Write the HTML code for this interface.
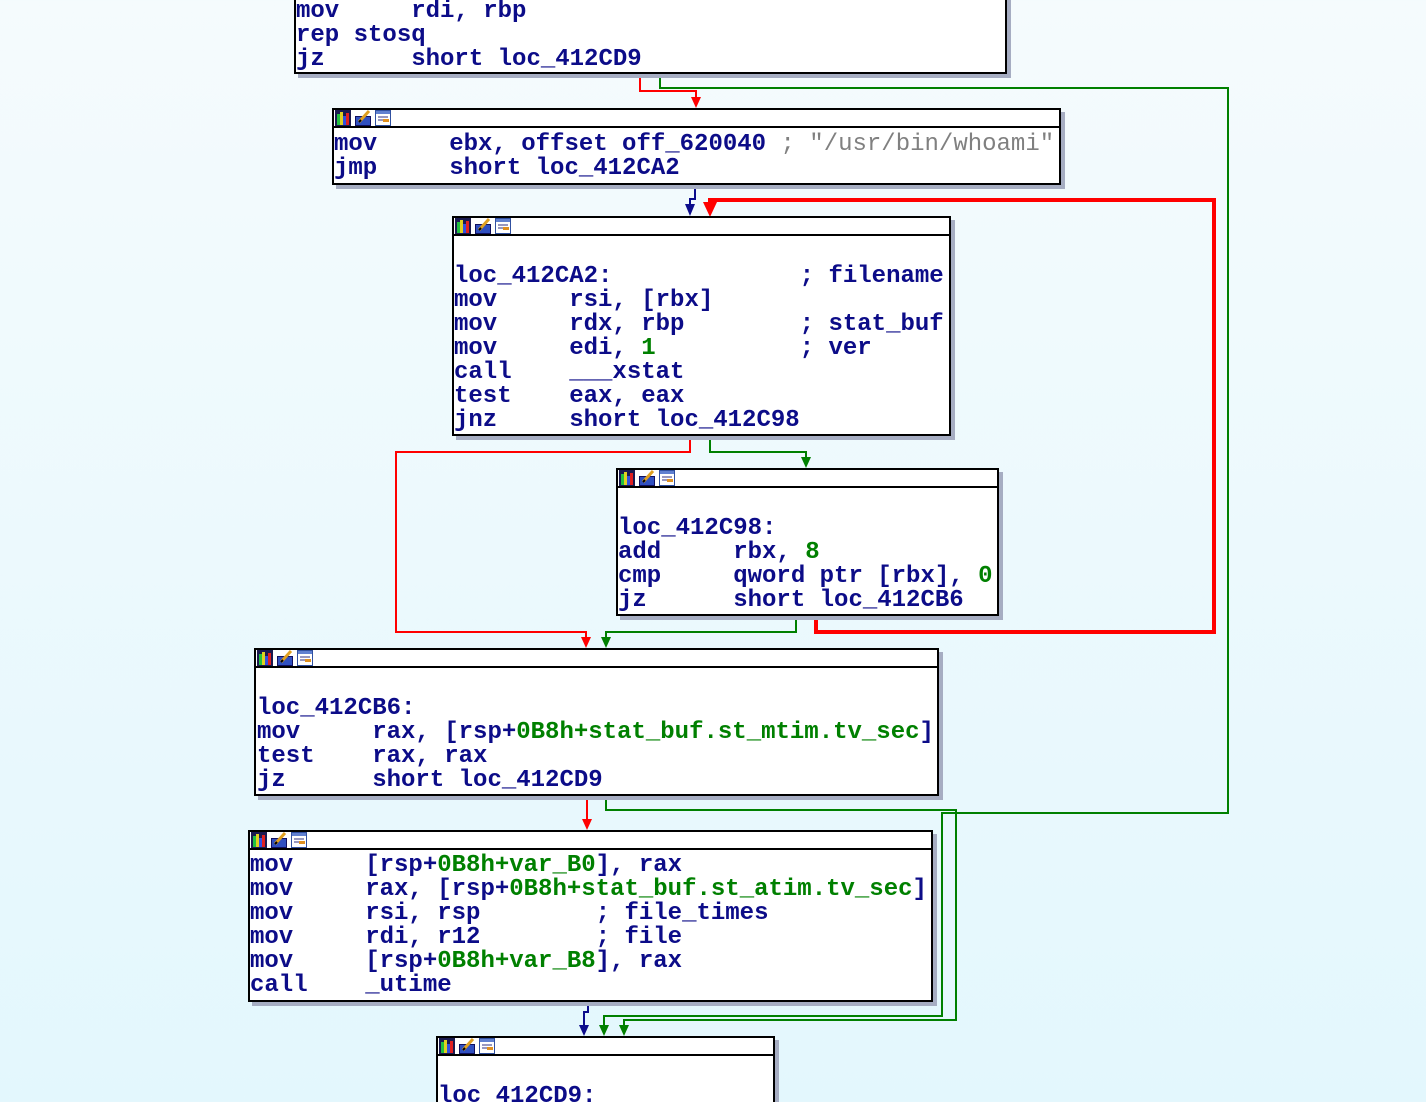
<!DOCTYPE html>
<html><head><meta charset="utf-8"><style>
html,body{margin:0;padding:0;width:1426px;height:1102px;overflow:hidden;}
body{position:relative;background:linear-gradient(#f5fbfd,#e3f7fd);}
.box{position:absolute;box-sizing:border-box;border:2px solid #000;background:#fff;box-shadow:4px 4px 0 #a6adc2;overflow:hidden;}
.hdr{height:16px;border-bottom:2px solid #000;position:relative;}
.hdr svg{position:absolute;top:0;}
pre{margin:0;padding:5px 0 0 0;font-family:"Liberation Mono",monospace;font-weight:bold;font-size:24px;line-height:24px;color:#0c0c88;white-space:pre;}
.g{color:#008000;}
.c{color:#808080;font-weight:normal;}
svg.lines{position:absolute;left:0;top:0;}
</style></head><body>
<svg class="lines" width="1426" height="1102" viewBox="0 0 1426 1102">
<g fill="none" stroke-width="2">
<polyline points="640,74 640,91 696,91 696,100" stroke="#ff0000"/>
<polyline points="660,74 660,88 1228,88 1228,813 942,813 942,1016 604,1016 604,1026" stroke="#008000"/>
<polyline points="695,185 695,199 690,199 690,206" stroke="#0c0c8c"/>
<polyline points="710,436 710,452 806,452 806,458" stroke="#008000"/>
<polyline points="690,436 690,452 396,452 396,632 586,632 586,638" stroke="#ff0000"/>
<polyline points="796,616 796,632 606,632 606,638" stroke="#008000"/>
<polyline points="587,796 587,820" stroke="#ff0000"/>
<polyline points="606,796 606,810 956,810 956,1020 624,1020 624,1026" stroke="#008000"/>
<polyline points="588,1002 588,1012 584,1012 584,1026" stroke="#0c0c8c"/>
<polyline points="816,616 816,632 1214,632 1214,200 710,200 710,204" stroke="#ff0000" stroke-width="4"/>
</g>
<polygon points="691,97 701,97 696,108" fill="#ff0000"/>
<polygon points="685,204 695,204 690,216" fill="#0c0c8c"/>
<polygon points="703,202 717,202 710,217" fill="#ff0000"/>
<polygon points="801,457 811,457 806,468" fill="#008000"/>
<polygon points="581,637 591,637 586,648" fill="#ff0000"/>
<polygon points="601,637 611,637 606,648" fill="#008000"/>
<polygon points="582,819 592,819 587,830" fill="#ff0000"/>
<polygon points="579,1025 589,1025 584,1036" fill="#0c0c8c"/>
<polygon points="599,1025 609,1025 604,1036" fill="#008000"/>
<polygon points="619,1025 629,1025 624,1036" fill="#008000"/>
</svg>

<!-- Box 0 -->
<div class="box" style="left:294px;top:-10px;width:713px;height:84px;">
<pre style="padding-top:8px;">mov     rdi, rbp
rep stosq
jz      short loc_412CD9</pre>
</div>

<!-- Box 1 -->
<div class="box" style="left:332px;top:108px;width:729px;height:77px;">
<div class="hdr">
<svg style="left:1px" width="16" height="16"><rect x="0" y="0" width="16" height="16" fill="#1a1a50"/><rect x="2" y="4" width="3" height="11" fill="#20c040"/><rect x="5" y="2" width="3" height="13" fill="#e0d020"/><rect x="8" y="6" width="3" height="9" fill="#3050e0"/><rect x="11" y="3" width="3" height="12" fill="#e02020"/></svg>
<svg style="left:21px" width="16" height="16"><rect x="0.5" y="6.5" width="15" height="9" fill="#3050c0" stroke="#101060"/><line x1="4" y1="12" x2="14" y2="1" stroke="#e0a020" stroke-width="3"/><line x1="4" y1="12" x2="6" y2="10" stroke="#000" stroke-width="2"/></svg>
<svg style="left:41px" width="16" height="16"><rect x="0.5" y="0.5" width="15" height="15" fill="#fff" stroke="#3050a0"/><rect x="1" y="1" width="14" height="3" fill="#6080d0"/><line x1="3" y1="7" x2="13" y2="7" stroke="#303080"/><line x1="3" y1="10" x2="8" y2="10" stroke="#303080"/><rect x="8" y="9" width="6" height="3" fill="#e09020"/></svg>
</div>
<pre>mov     ebx, offset off_620040 <span class="c">; "/usr/bin/whoami"</span>
jmp     short loc_412CA2</pre>
</div>

<!-- Box 2 -->
<div class="box" style="left:452px;top:216px;width:499px;height:220px;">
<div class="hdr">
<svg style="left:1px" width="16" height="16"><rect x="0" y="0" width="16" height="16" fill="#1a1a50"/><rect x="2" y="4" width="3" height="11" fill="#20c040"/><rect x="5" y="2" width="3" height="13" fill="#e0d020"/><rect x="8" y="6" width="3" height="9" fill="#3050e0"/><rect x="11" y="3" width="3" height="12" fill="#e02020"/></svg>
<svg style="left:21px" width="16" height="16"><rect x="0.5" y="6.5" width="15" height="9" fill="#3050c0" stroke="#101060"/><line x1="4" y1="12" x2="14" y2="1" stroke="#e0a020" stroke-width="3"/><line x1="4" y1="12" x2="6" y2="10" stroke="#000" stroke-width="2"/></svg>
<svg style="left:41px" width="16" height="16"><rect x="0.5" y="0.5" width="15" height="15" fill="#fff" stroke="#3050a0"/><rect x="1" y="1" width="14" height="3" fill="#6080d0"/><line x1="3" y1="7" x2="13" y2="7" stroke="#303080"/><line x1="3" y1="10" x2="8" y2="10" stroke="#303080"/><rect x="8" y="9" width="6" height="3" fill="#e09020"/></svg>
</div>
<pre> 
loc_412CA2:             ; filename
mov     rsi, [rbx]
mov     rdx, rbp        ; stat_buf
mov     edi, <span class="g">1</span>          ; ver
call    ___xstat
test    eax, eax
jnz     short loc_412C98</pre>
</div>

<!-- Box 3 -->
<div class="box" style="left:616px;top:468px;width:383px;height:148px;">
<div class="hdr">
<svg style="left:1px" width="16" height="16"><rect x="0" y="0" width="16" height="16" fill="#1a1a50"/><rect x="2" y="4" width="3" height="11" fill="#20c040"/><rect x="5" y="2" width="3" height="13" fill="#e0d020"/><rect x="8" y="6" width="3" height="9" fill="#3050e0"/><rect x="11" y="3" width="3" height="12" fill="#e02020"/></svg>
<svg style="left:21px" width="16" height="16"><rect x="0.5" y="6.5" width="15" height="9" fill="#3050c0" stroke="#101060"/><line x1="4" y1="12" x2="14" y2="1" stroke="#e0a020" stroke-width="3"/><line x1="4" y1="12" x2="6" y2="10" stroke="#000" stroke-width="2"/></svg>
<svg style="left:41px" width="16" height="16"><rect x="0.5" y="0.5" width="15" height="15" fill="#fff" stroke="#3050a0"/><rect x="1" y="1" width="14" height="3" fill="#6080d0"/><line x1="3" y1="7" x2="13" y2="7" stroke="#303080"/><line x1="3" y1="10" x2="8" y2="10" stroke="#303080"/><rect x="8" y="9" width="6" height="3" fill="#e09020"/></svg>
</div>
<pre> 
loc_412C98:
add     rbx, <span class="g">8</span>
cmp     qword ptr [rbx], <span class="g">0</span>
jz      short loc_412CB6</pre>
</div>

<!-- Box 4 -->
<div class="box" style="left:254px;top:648px;width:685px;height:148px;">
<div class="hdr">
<svg style="left:1px" width="16" height="16"><rect x="0" y="0" width="16" height="16" fill="#1a1a50"/><rect x="2" y="4" width="3" height="11" fill="#20c040"/><rect x="5" y="2" width="3" height="13" fill="#e0d020"/><rect x="8" y="6" width="3" height="9" fill="#3050e0"/><rect x="11" y="3" width="3" height="12" fill="#e02020"/></svg>
<svg style="left:21px" width="16" height="16"><rect x="0.5" y="6.5" width="15" height="9" fill="#3050c0" stroke="#101060"/><line x1="4" y1="12" x2="14" y2="1" stroke="#e0a020" stroke-width="3"/><line x1="4" y1="12" x2="6" y2="10" stroke="#000" stroke-width="2"/></svg>
<svg style="left:41px" width="16" height="16"><rect x="0.5" y="0.5" width="15" height="15" fill="#fff" stroke="#3050a0"/><rect x="1" y="1" width="14" height="3" fill="#6080d0"/><line x1="3" y1="7" x2="13" y2="7" stroke="#303080"/><line x1="3" y1="10" x2="8" y2="10" stroke="#303080"/><rect x="8" y="9" width="6" height="3" fill="#e09020"/></svg>
</div>
<pre style="padding-left:1px"> 
loc_412CB6:
mov     rax, [rsp+<span class="g">0B8h+stat_buf.st_mtim.tv_sec</span>]
test    rax, rax
jz      short loc_412CD9</pre>
</div>

<!-- Box 5 -->
<div class="box" style="left:248px;top:830px;width:685px;height:172px;">
<div class="hdr">
<svg style="left:1px" width="16" height="16"><rect x="0" y="0" width="16" height="16" fill="#1a1a50"/><rect x="2" y="4" width="3" height="11" fill="#20c040"/><rect x="5" y="2" width="3" height="13" fill="#e0d020"/><rect x="8" y="6" width="3" height="9" fill="#3050e0"/><rect x="11" y="3" width="3" height="12" fill="#e02020"/></svg>
<svg style="left:21px" width="16" height="16"><rect x="0.5" y="6.5" width="15" height="9" fill="#3050c0" stroke="#101060"/><line x1="4" y1="12" x2="14" y2="1" stroke="#e0a020" stroke-width="3"/><line x1="4" y1="12" x2="6" y2="10" stroke="#000" stroke-width="2"/></svg>
<svg style="left:41px" width="16" height="16"><rect x="0.5" y="0.5" width="15" height="15" fill="#fff" stroke="#3050a0"/><rect x="1" y="1" width="14" height="3" fill="#6080d0"/><line x1="3" y1="7" x2="13" y2="7" stroke="#303080"/><line x1="3" y1="10" x2="8" y2="10" stroke="#303080"/><rect x="8" y="9" width="6" height="3" fill="#e09020"/></svg>
</div>
<pre style="padding-top:4px">mov     [rsp+<span class="g">0B8h+var_B0</span>], rax
mov     rax, [rsp+<span class="g">0B8h+stat_buf.st_atim.tv_sec</span>]
mov     rsi, rsp        ; file_times
mov     rdi, r12        ; file
mov     [rsp+<span class="g">0B8h+var_B8</span>], rax
call    _utime</pre>
</div>

<!-- Box 6 -->
<div class="box" style="left:436px;top:1036px;width:339px;height:80px;">
<div class="hdr">
<svg style="left:1px" width="16" height="16"><rect x="0" y="0" width="16" height="16" fill="#1a1a50"/><rect x="2" y="4" width="3" height="11" fill="#20c040"/><rect x="5" y="2" width="3" height="13" fill="#e0d020"/><rect x="8" y="6" width="3" height="9" fill="#3050e0"/><rect x="11" y="3" width="3" height="12" fill="#e02020"/></svg>
<svg style="left:21px" width="16" height="16"><rect x="0.5" y="6.5" width="15" height="9" fill="#3050c0" stroke="#101060"/><line x1="4" y1="12" x2="14" y2="1" stroke="#e0a020" stroke-width="3"/><line x1="4" y1="12" x2="6" y2="10" stroke="#000" stroke-width="2"/></svg>
<svg style="left:41px" width="16" height="16"><rect x="0.5" y="0.5" width="15" height="15" fill="#fff" stroke="#3050a0"/><rect x="1" y="1" width="14" height="3" fill="#6080d0"/><line x1="3" y1="7" x2="13" y2="7" stroke="#303080"/><line x1="3" y1="10" x2="8" y2="10" stroke="#303080"/><rect x="8" y="9" width="6" height="3" fill="#e09020"/></svg>
</div>
<pre> 
loc_412CD9:</pre>
</div>
</body></html>
